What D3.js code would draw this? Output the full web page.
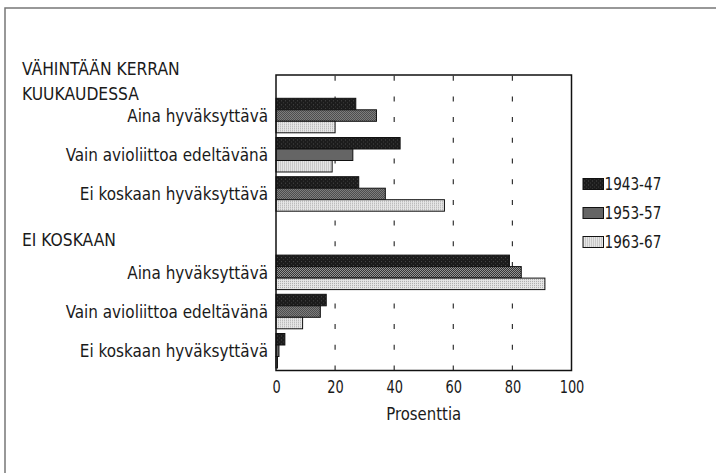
<!DOCTYPE html>
<html>
<head>
<meta charset="utf-8">
<script src="https://cdn.jsdelivr.net/npm/d3@7"></script>
<style>
  html, body { margin: 0; padding: 0; background: #fff; }
  svg { display: block; }
  text { font-family: "Liberation Sans Narrow", "DejaVu Sans Condensed", "Arial Narrow", sans-serif; fill: #1a1a1a; }
</style>
</head>
<body>
<svg id="chart" width="716" height="473"></svg>
<script>
// ---- data ----
const sections = [["VÄHINTÄÄN KERRAN", "KUUKAUDESSA"], ["EI KOSKAAN"]];
const categories = ["Aina hyväksyttävä", "Vain avioliittoa edeltävänä", "Ei koskaan hyväksyttävä"];
const series = ["1943-47", "1953-57", "1963-67"];
// order: section 1 (3 categories), then section 2 (3 categories)
const values1943 = [27, 42, 28, 79, 17, 3];
const values1953 = [34, 26, 37, 83, 15, 1];
const values1963 = [20, 19, 57, 91, 9, 0.5];
const xTicks = [0, 20, 40, 60, 80, 100];
const gridTicks = [20, 40, 60, 80];
const xLabel = "Prosenttia";

// ---- build rows ----
const seriesValues = [values1943, values1953, values1963];
const rows = [];
const groups = [];
sections.forEach((sec, si) => {
  rows.push("h" + si);
  categories.forEach((c, ci) => {
    const key = "s" + si + "c" + ci;
    rows.push(key);
    const idx = si * categories.length + ci;
    groups.push({ key, label: c, bars: series.map((s, k) => ({ series: s, value: seriesValues[k][idx] })) });
  });
});

const svg = d3.select("#chart");

function squeeze(sel, f) {
  sel.each(function () {
    const w = this.getComputedTextLength();
    d3.select(this).attr("textLength", w * f).attr("lengthAdjust", "spacingAndGlyphs");
  });
}

// patterns
const defs = svg.append("defs");
const p1 = defs.append("pattern").attr("id", "pat0").attr("patternUnits", "userSpaceOnUse").attr("width", 4).attr("height", 4);
p1.append("rect").attr("width", 4).attr("height", 4).attr("fill", "#1c1c1c");
p1.append("rect").attr("x", 1).attr("y", 2).attr("width", 1).attr("height", 1).attr("fill", "#4a4a4a");
p1.append("rect").attr("x", 3).attr("y", 0).attr("width", 1).attr("height", 1).attr("fill", "#3a3a3a");
const p2 = defs.append("pattern").attr("id", "pat1").attr("patternUnits", "userSpaceOnUse").attr("width", 2).attr("height", 2);
p2.append("rect").attr("width", 2).attr("height", 2).attr("fill", "#a0a0a0");
p2.append("rect").attr("x", 0).attr("y", 0).attr("width", 1).attr("height", 1).attr("fill", "#2a2a2a");
p2.append("rect").attr("x", 1).attr("y", 1).attr("width", 1).attr("height", 1).attr("fill", "#2a2a2a");
const p3 = defs.append("pattern").attr("id", "pat2").attr("patternUnits", "userSpaceOnUse").attr("width", 2).attr("height", 2);
p3.append("rect").attr("width", 2).attr("height", 2).attr("fill", "#e6e6e6");
p3.append("rect").attr("x", 0).attr("y", 0).attr("width", 1).attr("height", 1).attr("fill", "#aaaaaa");
const fills = { "1943-47": "url(#pat0)", "1953-57": "url(#pat1)", "1963-67": "url(#pat2)" };

// outer frame
svg.append("rect").attr("x", 5).attr("y", 8).attr("width", 730).attr("height", 490)
  .attr("fill", "none").attr("stroke", "#777").attr("stroke-width", 1.5);

// scales
const x = d3.scaleLinear().domain([0, 100]).range([276, 571.5]);
const plotTop = 75, plotBottom = 370.5;
const y = d3.scaleBand().domain(rows).range([59.1, 368]).paddingInner(0.12).paddingOuter(0);
const ySub = d3.scaleBand().domain(series).range([0, y.bandwidth()]);

// grid dashes
svg.append("g").selectAll("line").data(gridTicks).join("line")
  .attr("x1", d => x(d)).attr("x2", d => x(d))
  .attr("y1", plotBottom).attr("y2", plotTop)
  .attr("stroke", "#333").attr("stroke-width", 1.2)
  .attr("stroke-dasharray", "5,15.7");

// bars
const g = svg.append("g").selectAll("g").data(groups).join("g")
  .attr("transform", d => `translate(0,${y(d.key)})`);
g.selectAll("rect").data(d => d.bars).join("rect")
  .attr("x", x(0))
  .attr("y", d => ySub(d.series))
  .attr("width", d => x(d.value) - x(0))
  .attr("height", ySub.bandwidth())
  .attr("fill", d => fills[d.series])
  .attr("stroke", "#111").attr("stroke-width", 1);

// plot frame
svg.append("rect").attr("x", x(0)).attr("y", plotTop).attr("width", x(100) - x(0)).attr("height", plotBottom - plotTop)
  .attr("fill", "none").attr("stroke", "#111").attr("stroke-width", 1.5);

// category labels
const cl = svg.append("g").selectAll("text").data(groups).join("text")
  .attr("x", x(0) - 8)
  .attr("y", d => y(d.key) + y.bandwidth() / 2 + 6.5)
  .attr("text-anchor", "end")
  .attr("font-size", 18)
  .text(d => d.label);
squeeze(cl, 0.94);

// section headers
const headerOffsets = [41, 29.8];
sections.forEach((lines, si) => {
  const lastBase = y("h" + si) + headerOffsets[si];
  lines.forEach((ln, li) => {
    const t = svg.append("text").attr("x", 22).attr("y", lastBase - (lines.length - 1 - li) * 25)
      .attr("font-size", 18).text(ln);
    squeeze(t, 0.96);
  });
});

// x axis
const axis = svg.append("g").attr("transform", `translate(0,${plotBottom})`)
  .call(d3.axisBottom(x).tickValues(xTicks).tickSize(0).tickPadding(10).tickFormat(d3.format("d")));
axis.select(".domain").remove();
const tl = axis.selectAll("text").attr("font-size", 18).attr("fill", "#1a1a1a")
  .style("font-family", '"Liberation Sans Narrow", "DejaVu Sans Condensed", "Arial Narrow", sans-serif');
squeeze(tl, 0.8);

const xl = svg.append("text").attr("x", (x(0) + x(100)) / 2).attr("y", 419.5)
  .attr("text-anchor", "middle").attr("font-size", 18).text(xLabel);
squeeze(xl, 0.92);

// legend
const leg = svg.append("g").selectAll("g").data(series).join("g")
  .attr("transform", (d, i) => `translate(583,${178.5 + i * 29})`);
leg.append("rect").attr("width", 20.5).attr("height", 11)
  .attr("fill", d => fills[d]).attr("stroke", "#111").attr("stroke-width", 1);
const lt = leg.append("text").attr("x", 21.5).attr("y", 11.3).attr("font-size", 18).text(d => d);
squeeze(lt, 0.84);
</script>
</body>
</html>
